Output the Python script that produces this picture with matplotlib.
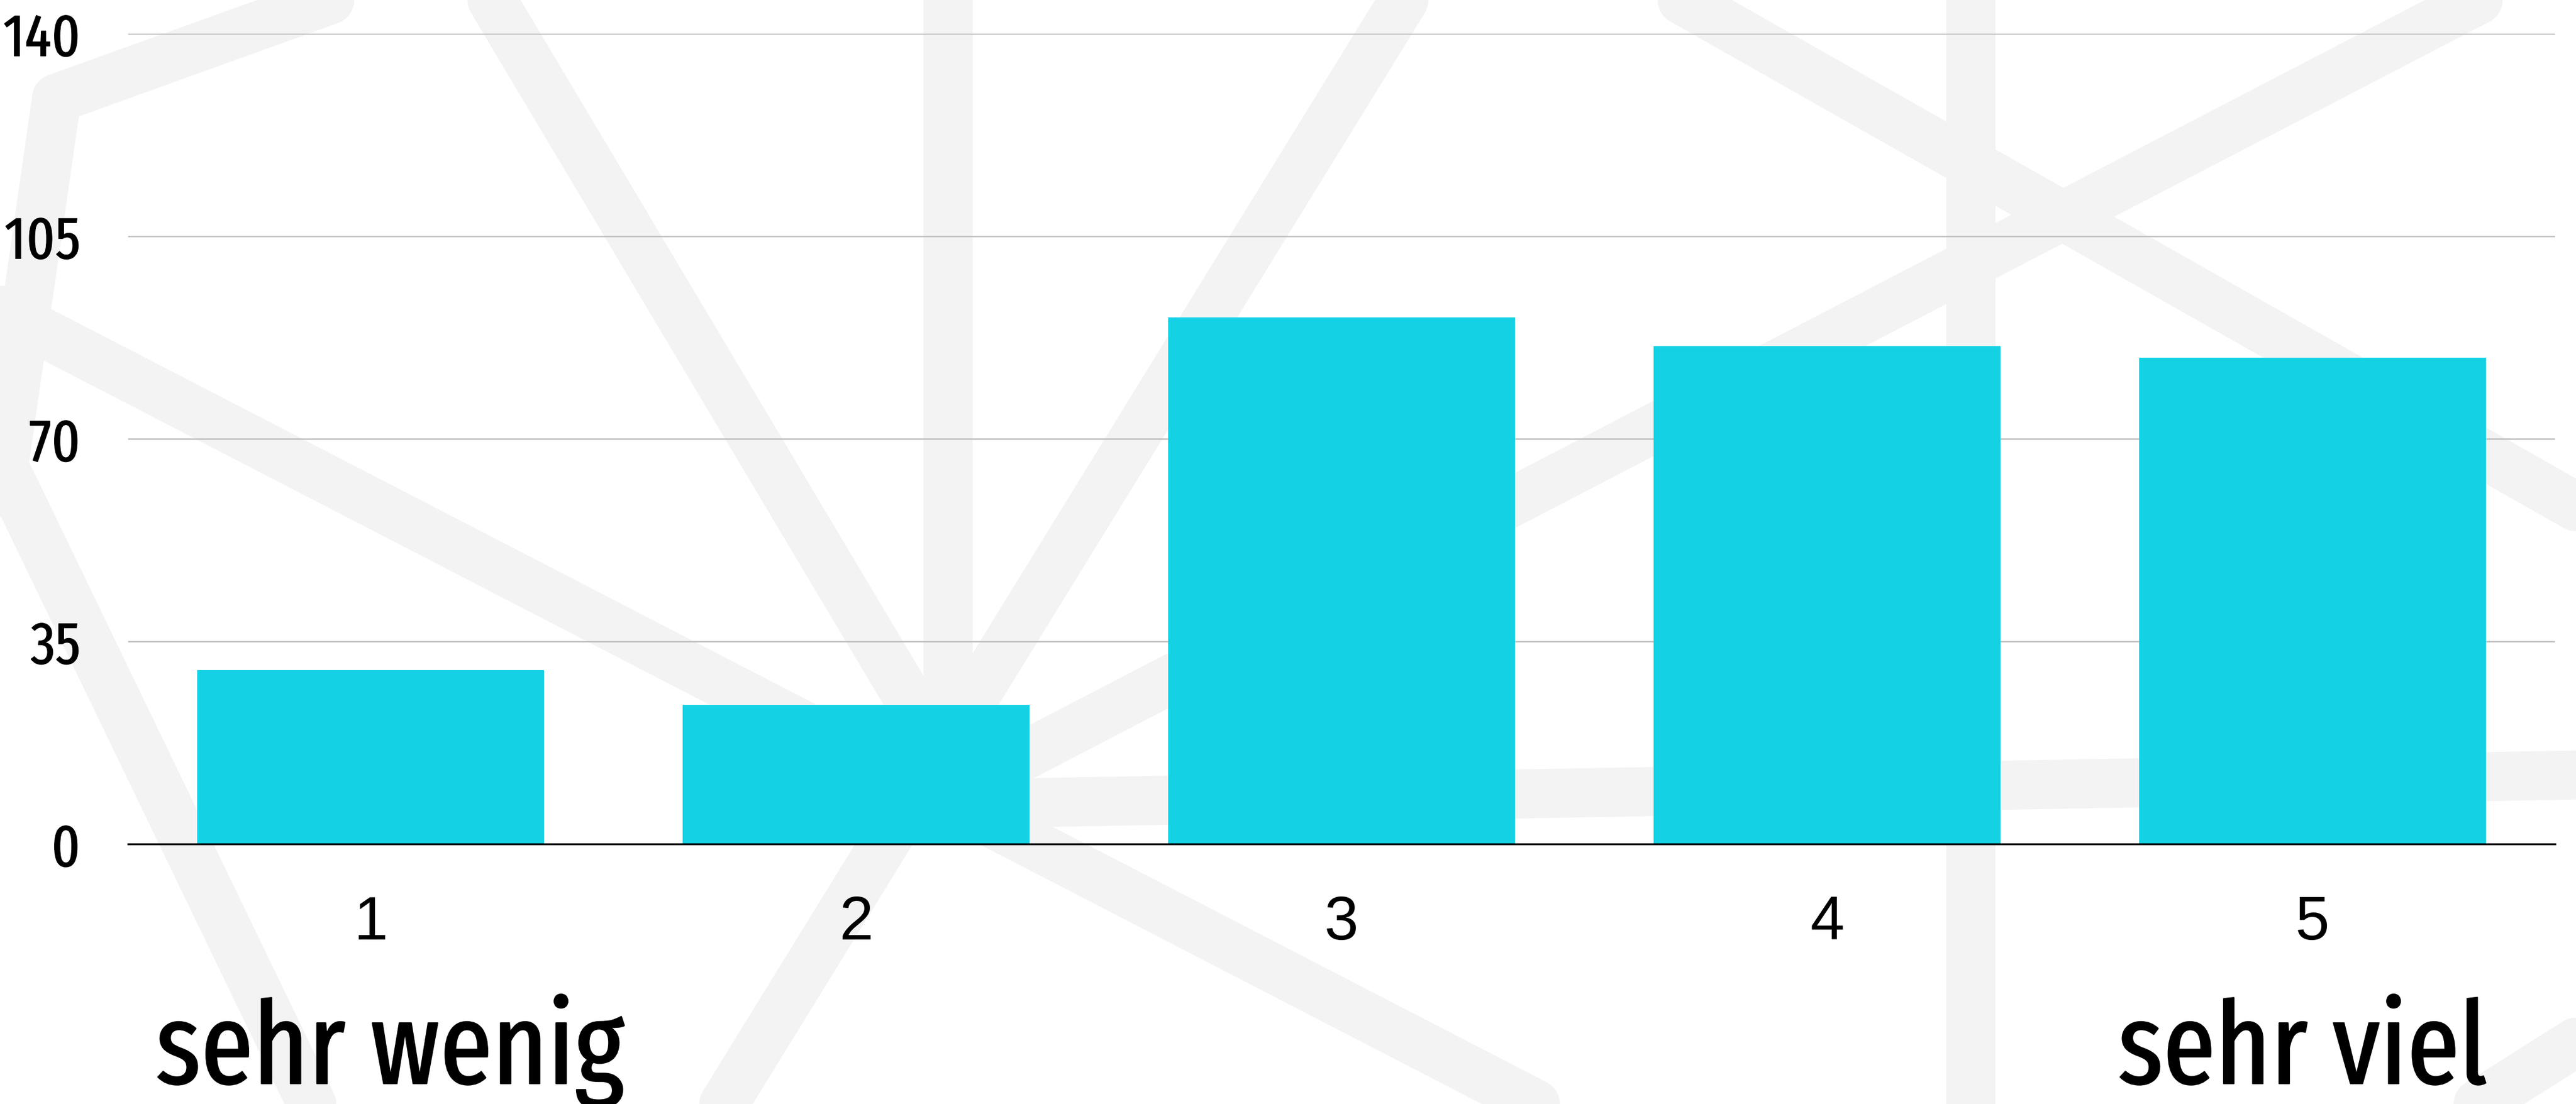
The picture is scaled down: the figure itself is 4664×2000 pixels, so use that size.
import os
import matplotlib
matplotlib.use("Agg")
import matplotlib.pyplot as plt
import matplotlib.patheffects as pe
from matplotlib import font_manager as fm
from matplotlib.lines import Line2D
from matplotlib.transforms import blended_transform_factory

# data
categories = ["1", "2", "3", "4", "5"]
counts = [30, 24, 91, 86, 84]
y_ticks = [0, 35, 70, 105, 140]
end_labels = ["sehr wenig", "sehr viel"]
end_label_pos = [0.04, 3.98]

bar_color = "#14d2e3"


def find_condensed():
    # look for any narrow sans face that is installed, the narrower the better
    best = None
    for f in fm.fontManager.ttflist:
        nm = f.name + " " + os.path.basename(f.fname)
        if "Mono" in nm or "Serif" in nm or "Italic" in nm or f.style != "normal":
            continue
        if "ExtraCondensed" in nm or "Extra Condensed" in nm or f.stretch == "extra-condensed":
            lvl = 0
        elif "SemiCondensed" in nm or "Semi Condensed" in nm or f.stretch == "semi-condensed":
            lvl = 2
        elif "Condensed" in nm or "Narrow" in nm or f.stretch == "condensed":
            lvl = 1
        else:
            continue
        w = f.weight if isinstance(f.weight, int) else 400
        key = (lvl, abs(w - 400), w)
        if best is None or key < best[0]:
            best = (key, f.fname)
    return best[1] if best else None


cond_path = find_condensed()


def cond_font(size):
    if cond_path:
        return fm.FontProperties(fname=cond_path, size=size)
    return fm.FontProperties(family="DejaVu Sans", size=size * 0.6)


def thicken(size):
    # thin outline so the regular face reads like the medium face in the original
    return [pe.withStroke(linewidth=size * 0.011, foreground="black")]


fig = plt.figure(figsize=(46.64, 20), dpi=100)
fig.patch.set_facecolor("white")

# faint network pattern in the background (figure fraction coords)
bg_lines = [
    [(0.191, 1.0), (0.354, 0.362)],
    [(0.368, 1.0), (0.368, 0.362)],
    [(0.545, 1.0), (0.281, 0.0)],
    [(0.0, 0.719), (0.596, 0.0)],
    [(0.0, 0.554), (0.022, 0.911)],
    [(0.022, 0.911), (0.128, 1.0)],
    [(0.0, 0.585), (0.121, 0.0)],
    [(0.383, 0.298), (0.962, 1.0)],
    [(0.402, 0.273), (1.0, 0.298)],
    [(0.765, 0.0), (0.765, 1.0)],
    [(0.653, 1.0), (1.0, 0.541)],
    [(0.962, 0.0), (1.0, 0.056)],
]
for seg in bg_lines:
    xs = [p[0] for p in seg]
    ys = [p[1] for p in seg]
    fig.add_artist(Line2D(xs, ys, transform=fig.transFigure, color="#f3f3f3",
                          lw=64, solid_capstyle="round", zorder=-5))

ax = fig.add_axes([0.0497, 0.2355, 0.9422, 0.734])
ax.set_facecolor("none")

x = list(range(len(categories)))
ax.bar(x, counts, width=0.715, color=bar_color, zorder=2)

ax.set_xlim(-0.5, 4.5)
ax.set_ylim(0, 140)
ax.set_yticks(y_ticks)
ylabs = ax.set_yticklabels([str(v) for v in y_ticks], fontproperties=cond_font(78))
for t in ylabs:
    t.set_path_effects(thicken(78))
ax.set_xticks(x)
ax.set_xticklabels(categories, family="Liberation Sans", fontsize=80)
ax.tick_params(axis="y", length=0, pad=62)
ax.tick_params(axis="x", length=0, pad=66)

ax.grid(axis="y", color="#bdbdbd", lw=1.8, zorder=1)
ax.set_axisbelow(True)
for side in ["top", "right", "left"]:
    ax.spines[side].set_visible(False)
ax.spines["bottom"].set_color("black")
ax.spines["bottom"].set_linewidth(2.5)
ax.spines["bottom"].set_zorder(3)

# end-of-scale captions under bar 1 and bar 5
trans = blended_transform_factory(ax.transData, fig.transFigure)
for lab, xp in zip(end_labels, end_label_pos):
    ax.text(xp, 0.0185, lab, transform=trans, ha="center", va="baseline",
            fontproperties=cond_font(150), color="black",
            path_effects=thicken(150))

fig.savefig("out.png", dpi=100)
